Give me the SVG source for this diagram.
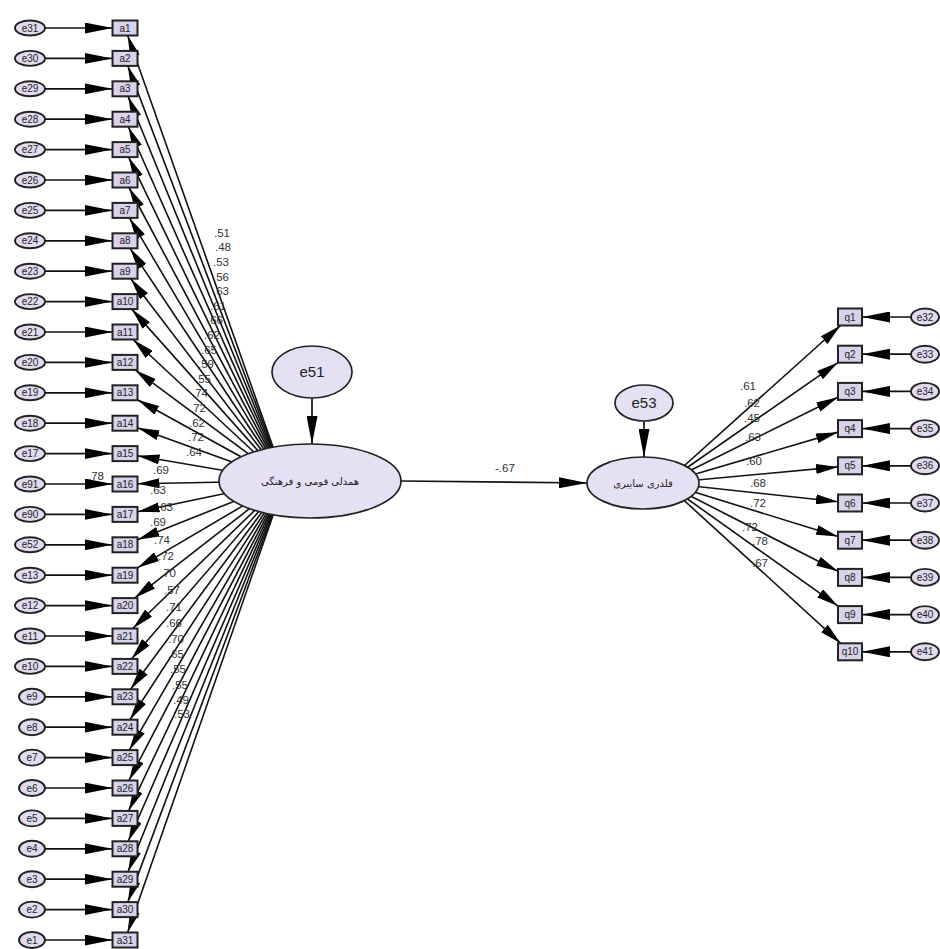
<svg xmlns="http://www.w3.org/2000/svg" width="940" height="949" viewBox="0 0 940 949">
<defs>
<marker id="ah" markerUnits="userSpaceOnUse" markerWidth="28" markerHeight="11" refX="28" refY="5.5" orient="auto"><path d="M0,0 L28,5.5 L0,11 z" fill="#000"/></marker>
<marker id="ahs" markerUnits="userSpaceOnUse" markerWidth="22" markerHeight="10" refX="22" refY="5" orient="auto"><path d="M0,0 L22,5 L0,10 z" fill="#000"/></marker>
<style>
.e{stroke:#111;stroke-width:1.7;fill:none;marker-end:url(#ah)}
.l{stroke:#111;stroke-width:1.6;fill:none;marker-end:url(#ahs)}
.err{fill:#e2dbf0;stroke:#222;stroke-width:1.9}
.box{fill:#d9d2ea;stroke:#222;stroke-width:2}
.lat{fill:#e6e0f4;stroke:#222;stroke-width:1.7}
.t{font-family:"Liberation Sans",Arial,sans-serif;font-size:10px;fill:#222;text-anchor:middle}
.w{font-family:"Liberation Sans",Arial,sans-serif;font-size:11.5px;fill:#333}
.big{font-family:"Liberation Sans",Arial,sans-serif;font-size:15px;fill:#222;text-anchor:middle}
.fa{font-family:"DejaVu Sans","Noto Sans",sans-serif;font-size:10px;fill:#222;text-anchor:middle}
</style>
</defs>
<rect width="940" height="949" fill="#fff"/>
<g id="connectors">
<line class="e" x1="45" y1="28" x2="112.5" y2="28"/>
<line class="e" x1="45" y1="58.4" x2="112.5" y2="58.4"/>
<line class="e" x1="45" y1="88.8" x2="112.5" y2="88.8"/>
<line class="e" x1="45" y1="119.2" x2="112.5" y2="119.2"/>
<line class="e" x1="45" y1="149.6" x2="112.5" y2="149.6"/>
<line class="e" x1="45" y1="180" x2="112.5" y2="180"/>
<line class="e" x1="45" y1="210.4" x2="112.5" y2="210.4"/>
<line class="e" x1="45" y1="240.8" x2="112.5" y2="240.8"/>
<line class="e" x1="45" y1="271.2" x2="112.5" y2="271.2"/>
<line class="e" x1="45" y1="301.6" x2="112.5" y2="301.6"/>
<line class="e" x1="45" y1="332" x2="112.5" y2="332"/>
<line class="e" x1="45" y1="362.4" x2="112.5" y2="362.4"/>
<line class="e" x1="45" y1="392.8" x2="112.5" y2="392.8"/>
<line class="e" x1="45" y1="423.2" x2="112.5" y2="423.2"/>
<line class="e" x1="45" y1="453.6" x2="112.5" y2="453.6"/>
<line class="e" x1="45" y1="484" x2="112.5" y2="484"/>
<line class="e" x1="45" y1="514.4" x2="112.5" y2="514.4"/>
<line class="e" x1="45" y1="544.8" x2="112.5" y2="544.8"/>
<line class="e" x1="45" y1="575.2" x2="112.5" y2="575.2"/>
<line class="e" x1="45" y1="605.6" x2="112.5" y2="605.6"/>
<line class="e" x1="45" y1="636" x2="112.5" y2="636"/>
<line class="e" x1="45" y1="666.4" x2="112.5" y2="666.4"/>
<line class="e" x1="45" y1="696.8" x2="112.5" y2="696.8"/>
<line class="e" x1="45" y1="727.2" x2="112.5" y2="727.2"/>
<line class="e" x1="45" y1="757.6" x2="112.5" y2="757.6"/>
<line class="e" x1="45" y1="788" x2="112.5" y2="788"/>
<line class="e" x1="45" y1="818.4" x2="112.5" y2="818.4"/>
<line class="e" x1="45" y1="848.8" x2="112.5" y2="848.8"/>
<line class="e" x1="45" y1="879.2" x2="112.5" y2="879.2"/>
<line class="e" x1="45" y1="909.6" x2="112.5" y2="909.6"/>
<line class="e" x1="45" y1="940" x2="112.5" y2="940"/>
<line class="l" x1="285" y1="481" x2="127.65" y2="35.5"/>
<line class="l" x1="285" y1="481" x2="127.84" y2="65.9"/>
<line class="l" x1="285" y1="481" x2="128.06" y2="96.3"/>
<line class="l" x1="285" y1="481" x2="128.32" y2="126.7"/>
<line class="l" x1="285" y1="481" x2="128.62" y2="157.1"/>
<line class="l" x1="285" y1="481" x2="128.99" y2="187.5"/>
<line class="l" x1="285" y1="481" x2="129.43" y2="217.9"/>
<line class="l" x1="285" y1="481" x2="130.0" y2="248.3"/>
<line class="l" x1="285" y1="481" x2="130.72" y2="278.7"/>
<line class="l" x1="285" y1="481" x2="131.69" y2="309.1"/>
<line class="l" x1="285" y1="481" x2="133.05" y2="339.5"/>
<line class="l" x1="285" y1="481" x2="135.12" y2="369.9"/>
<line class="l" x1="285" y1="481" x2="137.5" y2="399.69"/>
<line class="l" x1="285" y1="481" x2="137.5" y2="427.72"/>
<line class="l" x1="285" y1="481" x2="137.5" y2="455.74"/>
<line class="l" x1="285" y1="481" x2="137.5" y2="483.77"/>
<line class="l" x1="285" y1="481" x2="137.5" y2="511.79"/>
<line class="l" x1="285" y1="481" x2="137.5" y2="539.82"/>
<line class="l" x1="285" y1="481" x2="137.5" y2="567.84"/>
<line class="l" x1="285" y1="481" x2="134.63" y2="598.1"/>
<line class="l" x1="285" y1="481" x2="132.74" y2="628.5"/>
<line class="l" x1="285" y1="481" x2="131.47" y2="658.9"/>
<line class="l" x1="285" y1="481" x2="130.56" y2="689.3"/>
<line class="l" x1="285" y1="481" x2="129.87" y2="719.7"/>
<line class="l" x1="285" y1="481" x2="129.34" y2="750.1"/>
<line class="l" x1="285" y1="481" x2="128.91" y2="780.5"/>
<line class="l" x1="285" y1="481" x2="128.56" y2="810.9"/>
<line class="l" x1="285" y1="481" x2="128.26" y2="841.3"/>
<line class="l" x1="285" y1="481" x2="128.01" y2="871.7"/>
<line class="l" x1="285" y1="481" x2="127.80" y2="902.1"/>
<line class="l" x1="285" y1="481" x2="127.61" y2="932.5"/>
<line class="e" x1="312" y1="398" x2="312" y2="444"/>
<line class="e" x1="644" y1="421" x2="644" y2="457"/>
<line class="e" x1="401" y1="481" x2="587" y2="483"/>
<line class="l" x1="665" y1="483" x2="840.53" y2="325.5"/>
<line class="l" x1="665" y1="483" x2="838" y2="362.55"/>
<line class="l" x1="665" y1="483" x2="838" y2="397.34"/>
<line class="l" x1="665" y1="483" x2="838" y2="432.13"/>
<line class="l" x1="665" y1="483" x2="838" y2="466.92"/>
<line class="l" x1="665" y1="483" x2="838" y2="501.70"/>
<line class="l" x1="665" y1="483" x2="838" y2="536.49"/>
<line class="l" x1="665" y1="483" x2="838" y2="571.28"/>
<line class="l" x1="665" y1="483" x2="838.05" y2="606.1"/>
<line class="l" x1="665" y1="483" x2="840.68" y2="643.3"/>
<line class="e" x1="911" y1="317" x2="862" y2="317"/>
<line class="e" x1="911" y1="354.2" x2="862" y2="354.2"/>
<line class="e" x1="911" y1="391.4" x2="862" y2="391.4"/>
<line class="e" x1="911" y1="428.6" x2="862" y2="428.6"/>
<line class="e" x1="911" y1="465.8" x2="862" y2="465.8"/>
<line class="e" x1="911" y1="503" x2="862" y2="503"/>
<line class="e" x1="911" y1="540.2" x2="862" y2="540.2"/>
<line class="e" x1="911" y1="577.4" x2="862" y2="577.4"/>
<line class="e" x1="911" y1="614.6" x2="862" y2="614.6"/>
<line class="e" x1="911" y1="651.8" x2="862" y2="651.8"/>
</g>
<g id="loading-labels">
<text class="w" x="214" y="237">.51</text>
<text class="w" x="215" y="251">.48</text>
<text class="w" x="213" y="266">.53</text>
<text class="w" x="213" y="281">.56</text>
<text class="w" x="213" y="295">.63</text>
<text class="w" x="210" y="310">.61</text>
<text class="w" x="207" y="324">.66</text>
<text class="w" x="204" y="339">.62</text>
<text class="w" x="201" y="354">.65</text>
<text class="w" x="198" y="368">.59</text>
<text class="w" x="195" y="383">.55</text>
<text class="w" x="192" y="397">.74</text>
<text class="w" x="190" y="412">.72</text>
<text class="w" x="189" y="427">.62</text>
<text class="w" x="188" y="441">.72</text>
<text class="w" x="186" y="456">.64</text>
<text class="w" x="153" y="474">.69</text>
<text class="w" x="150" y="494">.63</text>
<text class="w" x="157" y="511">.63</text>
<text class="w" x="150" y="526">.69</text>
<text class="w" x="154" y="544">.74</text>
<text class="w" x="158" y="560">.72</text>
<text class="w" x="160" y="577">.70</text>
<text class="w" x="164" y="594">.57</text>
<text class="w" x="166" y="611">.71</text>
<text class="w" x="166" y="627">.66</text>
<text class="w" x="168" y="643">.70</text>
<text class="w" x="168" y="658">.65</text>
<text class="w" x="170" y="673">.55</text>
<text class="w" x="172" y="689">.55</text>
<text class="w" x="173" y="704">.49</text>
<text class="w" x="174" y="718">.53</text>
<text class="w" x="88" y="480">.78</text>
<text class="w" x="495" y="472">-.67</text>
<text class="w" x="740" y="390">.61</text>
<text class="w" x="744" y="407">.62</text>
<text class="w" x="744" y="422">.45</text>
<text class="w" x="745" y="441">.63</text>
<text class="w" x="746" y="465">.60</text>
<text class="w" x="750" y="487">.68</text>
<text class="w" x="750" y="507">.72</text>
<text class="w" x="742" y="531">.72</text>
<text class="w" x="752" y="545">.78</text>
<text class="w" x="752" y="567">.67</text>
</g>
<g id="left-errors">
<g id="e31"><ellipse class="err" cx="30" cy="28" rx="15" ry="7.5"/><text class="t" x="30" y="31.5">e31</text></g>
<g id="e30"><ellipse class="err" cx="30" cy="58.4" rx="15" ry="7.5"/><text class="t" x="30" y="61.9">e30</text></g>
<g id="e29"><ellipse class="err" cx="30" cy="88.8" rx="15" ry="7.5"/><text class="t" x="30" y="92.3">e29</text></g>
<g id="e28"><ellipse class="err" cx="30" cy="119.2" rx="15" ry="7.5"/><text class="t" x="30" y="122.7">e28</text></g>
<g id="e27"><ellipse class="err" cx="30" cy="149.6" rx="15" ry="7.5"/><text class="t" x="30" y="153.1">e27</text></g>
<g id="e26"><ellipse class="err" cx="30" cy="180" rx="15" ry="7.5"/><text class="t" x="30" y="183.5">e26</text></g>
<g id="e25"><ellipse class="err" cx="30" cy="210.4" rx="15" ry="7.5"/><text class="t" x="30" y="213.9">e25</text></g>
<g id="e24"><ellipse class="err" cx="30" cy="240.8" rx="15" ry="7.5"/><text class="t" x="30" y="244.3">e24</text></g>
<g id="e23"><ellipse class="err" cx="30" cy="271.2" rx="15" ry="7.5"/><text class="t" x="30" y="274.7">e23</text></g>
<g id="e22"><ellipse class="err" cx="30" cy="301.6" rx="15" ry="7.5"/><text class="t" x="30" y="305.1">e22</text></g>
<g id="e21"><ellipse class="err" cx="30" cy="332" rx="15" ry="7.5"/><text class="t" x="30" y="335.5">e21</text></g>
<g id="e20"><ellipse class="err" cx="30" cy="362.4" rx="15" ry="7.5"/><text class="t" x="30" y="365.9">e20</text></g>
<g id="e19"><ellipse class="err" cx="30" cy="392.8" rx="15" ry="7.5"/><text class="t" x="30" y="396.3">e19</text></g>
<g id="e18"><ellipse class="err" cx="30" cy="423.2" rx="15" ry="7.5"/><text class="t" x="30" y="426.7">e18</text></g>
<g id="e17"><ellipse class="err" cx="30" cy="453.6" rx="15" ry="7.5"/><text class="t" x="30" y="457.1">e17</text></g>
<g id="e91"><ellipse class="err" cx="30" cy="484" rx="15" ry="7.5"/><text class="t" x="30" y="487.5">e91</text></g>
<g id="e90"><ellipse class="err" cx="30" cy="514.4" rx="15" ry="7.5"/><text class="t" x="30" y="517.9">e90</text></g>
<g id="e52"><ellipse class="err" cx="30" cy="544.8" rx="15" ry="7.5"/><text class="t" x="30" y="548.3">e52</text></g>
<g id="e13"><ellipse class="err" cx="30" cy="575.2" rx="15" ry="7.5"/><text class="t" x="30" y="578.7">e13</text></g>
<g id="e12"><ellipse class="err" cx="30" cy="605.6" rx="15" ry="7.5"/><text class="t" x="30" y="609.1">e12</text></g>
<g id="e11"><ellipse class="err" cx="30" cy="636" rx="15" ry="7.5"/><text class="t" x="30" y="639.5">e11</text></g>
<g id="e10"><ellipse class="err" cx="30" cy="666.4" rx="15" ry="7.5"/><text class="t" x="30" y="669.9">e10</text></g>
<g id="e9"><ellipse class="err" cx="32" cy="696.8" rx="13" ry="8"/><text class="t" x="32" y="700.3">e9</text></g>
<g id="e8"><ellipse class="err" cx="32" cy="727.2" rx="13" ry="8"/><text class="t" x="32" y="730.7">e8</text></g>
<g id="e7"><ellipse class="err" cx="32" cy="757.6" rx="13" ry="8"/><text class="t" x="32" y="761.1">e7</text></g>
<g id="e6"><ellipse class="err" cx="32" cy="788" rx="13" ry="8"/><text class="t" x="32" y="791.5">e6</text></g>
<g id="e5"><ellipse class="err" cx="32" cy="818.4" rx="13" ry="8"/><text class="t" x="32" y="821.9">e5</text></g>
<g id="e4"><ellipse class="err" cx="32" cy="848.8" rx="13" ry="8"/><text class="t" x="32" y="852.3">e4</text></g>
<g id="e3"><ellipse class="err" cx="32" cy="879.2" rx="13" ry="8"/><text class="t" x="32" y="882.7">e3</text></g>
<g id="e2"><ellipse class="err" cx="32" cy="909.6" rx="13" ry="8"/><text class="t" x="32" y="913.1">e2</text></g>
<g id="e1"><ellipse class="err" cx="32" cy="940" rx="13" ry="8"/><text class="t" x="32" y="943.5">e1</text></g>
</g>
<g id="left-boxes">
<g id="a1"><rect class="box" x="112.5" y="20.5" width="25" height="15"/><text class="t" x="125" y="31.5">a1</text></g>
<g id="a2"><rect class="box" x="112.5" y="50.9" width="25" height="15"/><text class="t" x="125" y="61.9">a2</text></g>
<g id="a3"><rect class="box" x="112.5" y="81.3" width="25" height="15"/><text class="t" x="125" y="92.3">a3</text></g>
<g id="a4"><rect class="box" x="112.5" y="111.7" width="25" height="15"/><text class="t" x="125" y="122.7">a4</text></g>
<g id="a5"><rect class="box" x="112.5" y="142.1" width="25" height="15"/><text class="t" x="125" y="153.1">a5</text></g>
<g id="a6"><rect class="box" x="112.5" y="172.5" width="25" height="15"/><text class="t" x="125" y="183.5">a6</text></g>
<g id="a7"><rect class="box" x="112.5" y="202.9" width="25" height="15"/><text class="t" x="125" y="213.9">a7</text></g>
<g id="a8"><rect class="box" x="112.5" y="233.3" width="25" height="15"/><text class="t" x="125" y="244.3">a8</text></g>
<g id="a9"><rect class="box" x="112.5" y="263.7" width="25" height="15"/><text class="t" x="125" y="274.7">a9</text></g>
<g id="a10"><rect class="box" x="112.5" y="294.1" width="25" height="15"/><text class="t" x="125" y="305.1">a10</text></g>
<g id="a11"><rect class="box" x="112.5" y="324.5" width="25" height="15"/><text class="t" x="125" y="335.5">a11</text></g>
<g id="a12"><rect class="box" x="112.5" y="354.9" width="25" height="15"/><text class="t" x="125" y="365.9">a12</text></g>
<g id="a13"><rect class="box" x="112.5" y="385.3" width="25" height="15"/><text class="t" x="125" y="396.3">a13</text></g>
<g id="a14"><rect class="box" x="112.5" y="415.7" width="25" height="15"/><text class="t" x="125" y="426.7">a14</text></g>
<g id="a15"><rect class="box" x="112.5" y="446.1" width="25" height="15"/><text class="t" x="125" y="457.1">a15</text></g>
<g id="a16"><rect class="box" x="112.5" y="476.5" width="25" height="15"/><text class="t" x="125" y="487.5">a16</text></g>
<g id="a17"><rect class="box" x="112.5" y="506.9" width="25" height="15"/><text class="t" x="125" y="517.9">a17</text></g>
<g id="a18"><rect class="box" x="112.5" y="537.3" width="25" height="15"/><text class="t" x="125" y="548.3">a18</text></g>
<g id="a19"><rect class="box" x="112.5" y="567.7" width="25" height="15"/><text class="t" x="125" y="578.7">a19</text></g>
<g id="a20"><rect class="box" x="112.5" y="598.1" width="25" height="15"/><text class="t" x="125" y="609.1">a20</text></g>
<g id="a21"><rect class="box" x="112.5" y="628.5" width="25" height="15"/><text class="t" x="125" y="639.5">a21</text></g>
<g id="a22"><rect class="box" x="112.5" y="658.9" width="25" height="15"/><text class="t" x="125" y="669.9">a22</text></g>
<g id="a23"><rect class="box" x="112.5" y="689.3" width="25" height="15"/><text class="t" x="125" y="700.3">a23</text></g>
<g id="a24"><rect class="box" x="112.5" y="719.7" width="25" height="15"/><text class="t" x="125" y="730.7">a24</text></g>
<g id="a25"><rect class="box" x="112.5" y="750.1" width="25" height="15"/><text class="t" x="125" y="761.1">a25</text></g>
<g id="a26"><rect class="box" x="112.5" y="780.5" width="25" height="15"/><text class="t" x="125" y="791.5">a26</text></g>
<g id="a27"><rect class="box" x="112.5" y="810.9" width="25" height="15"/><text class="t" x="125" y="821.9">a27</text></g>
<g id="a28"><rect class="box" x="112.5" y="841.3" width="25" height="15"/><text class="t" x="125" y="852.3">a28</text></g>
<g id="a29"><rect class="box" x="112.5" y="871.7" width="25" height="15"/><text class="t" x="125" y="882.7">a29</text></g>
<g id="a30"><rect class="box" x="112.5" y="902.1" width="25" height="15"/><text class="t" x="125" y="913.1">a30</text></g>
<g id="a31"><rect class="box" x="112.5" y="932.5" width="25" height="15"/><text class="t" x="125" y="943.5">a31</text></g>
</g>
<g id="latent1"><ellipse class="lat" cx="310" cy="481" rx="91" ry="37"/><text class="fa" x="310" y="485">همدلی قومی و فرهنگی</text></g>
<g id="e51"><ellipse class="lat" cx="312" cy="372" rx="40" ry="26"/><text class="big" x="312" y="377">e51</text></g>
<g id="latent2"><ellipse class="lat" cx="643" cy="483" rx="56" ry="26"/><text class="fa" x="643" y="487">قلدری سایبری</text></g>
<g id="e53"><ellipse class="lat" cx="644" cy="403" rx="29" ry="18"/><text class="big" x="644" y="408">e53</text></g>
<g id="right-boxes">
<g id="q1"><rect class="box" x="838" y="308.5" width="24" height="17"/><text class="t" x="850" y="320.5">q1</text></g>
<g id="q2"><rect class="box" x="838" y="345.7" width="24" height="17"/><text class="t" x="850" y="357.7">q2</text></g>
<g id="q3"><rect class="box" x="838" y="382.9" width="24" height="17"/><text class="t" x="850" y="394.9">q3</text></g>
<g id="q4"><rect class="box" x="838" y="420.1" width="24" height="17"/><text class="t" x="850" y="432.1">q4</text></g>
<g id="q5"><rect class="box" x="838" y="457.3" width="24" height="17"/><text class="t" x="850" y="469.3">q5</text></g>
<g id="q6"><rect class="box" x="838" y="494.5" width="24" height="17"/><text class="t" x="850" y="506.5">q6</text></g>
<g id="q7"><rect class="box" x="838" y="531.7" width="24" height="17"/><text class="t" x="850" y="543.7">q7</text></g>
<g id="q8"><rect class="box" x="838" y="568.9" width="24" height="17"/><text class="t" x="850" y="580.9">q8</text></g>
<g id="q9"><rect class="box" x="838" y="606.1" width="24" height="17"/><text class="t" x="850" y="618.1">q9</text></g>
<g id="q10"><rect class="box" x="838" y="643.3" width="24" height="17"/><text class="t" x="850" y="655.3">q10</text></g>
</g>
<g id="right-errors">
<g id="e32"><ellipse class="err" cx="925" cy="317" rx="14" ry="8.5"/><text class="t" x="925" y="320.5">e32</text></g>
<g id="e33"><ellipse class="err" cx="925" cy="354.2" rx="14" ry="8.5"/><text class="t" x="925" y="357.7">e33</text></g>
<g id="e34"><ellipse class="err" cx="925" cy="391.4" rx="14" ry="8.5"/><text class="t" x="925" y="394.9">e34</text></g>
<g id="e35"><ellipse class="err" cx="925" cy="428.6" rx="14" ry="8.5"/><text class="t" x="925" y="432.1">e35</text></g>
<g id="e36"><ellipse class="err" cx="925" cy="465.8" rx="14" ry="8.5"/><text class="t" x="925" y="469.3">e36</text></g>
<g id="e37"><ellipse class="err" cx="925" cy="503" rx="14" ry="8.5"/><text class="t" x="925" y="506.5">e37</text></g>
<g id="e38"><ellipse class="err" cx="925" cy="540.2" rx="14" ry="8.5"/><text class="t" x="925" y="543.7">e38</text></g>
<g id="e39"><ellipse class="err" cx="925" cy="577.4" rx="14" ry="8.5"/><text class="t" x="925" y="580.9">e39</text></g>
<g id="e40"><ellipse class="err" cx="925" cy="614.6" rx="14" ry="8.5"/><text class="t" x="925" y="618.1">e40</text></g>
<g id="e41"><ellipse class="err" cx="925" cy="651.8" rx="14" ry="8.5"/><text class="t" x="925" y="655.3">e41</text></g>
</g>
</svg>
